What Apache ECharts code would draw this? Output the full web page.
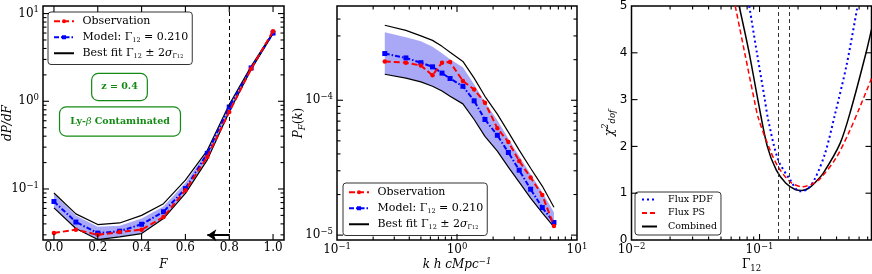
<!DOCTYPE html>
<html><head><meta charset="utf-8">
<script src="https://cdn.jsdelivr.net/npm/echarts@6/dist/echarts.min.js"></script>
<style>html,body{margin:0;padding:0;background:#fff}#c{width:872px;height:274px}</style>
</head><body><div id="c"></div>
<script>
// ---------- Panel 1: flux PDF ----------
const fluxF      = [0.0, 0.1, 0.2, 0.3, 0.4, 0.5, 0.6, 0.7, 0.8, 0.9, 1.0];
const pdfObs     = [0.0315, 0.0344, 0.0300, 0.0323, 0.0344, 0.048, 0.097, 0.232, 0.755, 2.35, 6.3];
const pdfModel   = [0.072, 0.042, 0.0314, 0.033, 0.0396, 0.055, 0.101, 0.255, 0.86, 2.4, 6.0];
const pdfFitHi   = [0.090, 0.052, 0.0393, 0.041, 0.050, 0.068, 0.126, 0.276, 0.92, 2.5, 6.1];
const pdfFitLo   = [0.0608, 0.0354, 0.0265, 0.0284, 0.031, 0.046, 0.089, 0.215, 0.76, 2.3, 5.9];
const pdfBandHi  = [0.088, 0.050, 0.037, 0.038, 0.046, 0.063, 0.118, 0.27, 0.90, 2.5, 6.1];
const pdfBandLo  = [0.0608, 0.0354, 0.0265, 0.0284, 0.031, 0.046, 0.089, 0.215, 0.76, 2.3, 5.9];
const fluxCut    = 0.8;
const arrowTo    = 0.7;
const arrowLevel = 0.0297;
const fluxTicks  = [0.0, 0.2, 0.4, 0.6, 0.8, 1.0];
const pdfTicks   = [0.1, 1, 10];

// ---------- Panel 2: flux power spectrum ----------
const kVals     = [0.25, 0.375, 0.5, 0.625, 0.75, 0.875, 1.12, 1.39, 1.71, 2.17, 2.68, 3.30, 4.11, 5.14, 6.43];
const psObs     = [1.94e-4, 1.90e-4, 1.81e-4, 1.53e-4, 1.90e-4, 1.92e-4, 1.39e-4, 1.20e-4, 9.6e-5, 6.2e-5, 4.9e-5, 3.55e-5, 2.67e-5, 1.98e-5, 1.17e-5];
const psModel   = [2.22e-4, 2.06e-4, 1.90e-4, 1.77e-4, 1.59e-4, 1.45e-4, 1.27e-4, 9.9e-5, 7.2e-5, 5.5e-5, 4.1e-5, 3.03e-5, 2.19e-5, 1.60e-5, 1.24e-5];
const psFitHi   = [3.6e-4, 3.3e-4, 3.0e-4, 2.78e-4, 2.51e-4, 2.27e-4, 1.94e-4, 1.46e-4, 1.07e-4, 7.9e-5, 5.8e-5, 4.27e-5, 3.13e-5, 2.31e-5, 1.61e-5];
const psFitLo   = [1.56e-4, 1.46e-4, 1.37e-4, 1.27e-4, 1.17e-4, 1.07e-4, 9.4e-5, 7.2e-5, 5.4e-5, 4.19e-5, 3.19e-5, 2.47e-5, 1.88e-5, 1.46e-5, 1.15e-5];
const psBandHi  = [3.2e-4, 2.93e-4, 2.74e-4, 2.49e-4, 2.23e-4, 2.01e-4, 1.76e-4, 1.31e-4, 9.66e-5, 7.1e-5, 5.2e-5, 3.85e-5, 2.83e-5, 2.08e-5, 1.48e-5];
const psBandLo  = [1.56e-4, 1.46e-4, 1.37e-4, 1.27e-4, 1.17e-4, 1.07e-4, 9.4e-5, 7.2e-5, 5.4e-5, 4.19e-5, 3.19e-5, 2.47e-5, 1.88e-5, 1.46e-5, 1.15e-5];
const kTicks    = [0.1, 1, 10];
const psTicks   = [1e-5, 1e-4];

// ---------- Panel 3: chi^2 vs Gamma_12 ----------
const gamPDF  = [0.0831, 0.0954, 0.110, 0.117, 0.140, 0.174, 0.205, 0.235, 0.27, 0.326, 0.39, 0.48, 0.58];
const chiPDF  = [5.0, 4.0, 3.0, 2.56, 1.71, 1.28, 1.04, 1.08, 1.3, 1.86, 2.7, 3.75, 4.96];
const gamPS   = [0.0646, 0.0766, 0.0909, 0.098, 0.121, 0.14, 0.174, 0.215, 0.26, 0.30, 0.40, 0.50, 0.60, 0.75];
const chiPS   = [5.0, 4.0, 3.0, 2.6, 1.92, 1.56, 1.24, 1.14, 1.2, 1.32, 1.77, 2.3, 2.8, 3.45];
const gamComb = [0.0693, 0.083, 0.097, 0.115, 0.135, 0.16, 0.19, 0.215, 0.24, 0.27, 0.315, 0.427, 0.52, 0.68, 0.75];
const chiComb = [5.0, 4.0, 3.0, 2.0, 1.5, 1.22, 1.08, 1.06, 1.1, 1.22, 1.43, 2.07, 2.8, 4.0, 4.5];
const gamBounds = [0.135, 0.175];
const gamTicks  = [0.01, 0.1];
const chiTicks  = [0, 1, 2, 3, 4, 5];

// ---------- styling ----------
const SERIF = 'DejaVu Serif';
const RED = '#ff0000', BLUE = '#0000ff', GREEN = '#138a13';
const BAND = 'rgba(0,0,230,0.34)';

function minorLog(e0, e1, lo, hi) {
  const out = [];
  for (let e = e0; e < e1; e++) for (let m = 2; m <= 9; m++) {
    const v = +(m * Math.pow(10, e)).toPrecision(3);
    if (v > lo && v < hi) out.push(v);
  }
  return out;
}
function expLabel(v) {
  const e = Math.round(Math.log10(v));
  return '{b|10}{s|' + (e < 0 ? '\u2212' + (-e) : e) + '}';
}
const expRich = {
  b: {fontFamily: SERIF, fontSize: 12, lineHeight: 16, color: '#000'},
  s: {fontFamily: SERIF, fontSize: 8.5, lineHeight: 8, verticalAlign: 'top', color: '#000'}
};
const nameRich = {
  i: {fontFamily: SERIF, fontStyle: 'italic', fontSize: 12, lineHeight: 16, color: '#000'},
  r: {fontFamily: SERIF, fontSize: 12, lineHeight: 16, color: '#000'},
  s: {fontFamily: SERIF, fontStyle: 'italic', fontSize: 8.5, lineHeight: 8, verticalAlign: 'top', color: '#000'},
  sub: {fontFamily: SERIF, fontStyle: 'italic', fontSize: 8.5, lineHeight: 8, verticalAlign: 'bottom', color: '#000'},
  subr: {fontFamily: SERIF, fontSize: 8.5, lineHeight: 8, verticalAlign: 'bottom', color: '#000'}
};

function makeAxis(gi, type, min, max, label, nameOpt, pos) {
  const a = {type: type, gridIndex: gi, min: min, max: max, position: pos,
    axisLine: {show: false}, axisTick: {show: false}, splitLine: {show: false},
    minorTick: {show: false}, minorSplitLine: {show: false}, axisLabel: label, nameMoveOverlap: false};
  if (type === 'log') a.logBase = 10;
  return Object.assign(a, nameOpt);
}
const plainLabel = (vals, fmt, margin, family) => ({show: true, customValues: vals, margin: margin,
  fontFamily: family || SERIF, fontSize: 12, color: '#000', formatter: fmt});
const expAxisLabel = (vals, margin) => ({show: true, customValues: vals, margin: margin,
  formatter: v => expLabel(v), rich: expRich});
const nameOf = (text, gap, rot) => ({name: text, nameLocation: 'middle', nameGap: gap, nameRotate: rot || 0,
  nameTextStyle: {rich: nameRich}});

// axis extents and types
const xr = [[-0.05, 1.05], [0.0999, 10.01], [0.00999, 0.75]];
const yr = [[0.0262, 12.2], [9.2e-6, 5e-4], [0, 5]];
const xType = ['value', 'log', 'log'];
const yType = ['log', 'log', 'value'];
const gridW = [241, 240, 240], gridH = 234;

const xAxes = [
  makeAxis(0, xType[0], xr[0][0], xr[0][1], plainLabel(fluxTicks, v => v.toFixed(1), 2), nameOf('{i|F}', 17), 'bottom'),
  makeAxis(1, xType[1], xr[1][0], xr[1][1], expAxisLabel(kTicks, 2), nameOf('{i|k h cMpc}{s|\u22121}', 17), 'bottom'),
  makeAxis(2, xType[2], xr[2][0], xr[2][1], expAxisLabel(gamTicks, 2), nameOf('{r|\u0393}{subr|12}', 17), 'bottom')
];
const yAxes = [
  makeAxis(0, yType[0], yr[0][0], yr[0][1], expAxisLabel(pdfTicks, 4), nameOf('{i|dP/dF}', 27, 90), 'left'),
  makeAxis(1, yType[1], yr[1][0], yr[1][1], expAxisLabel(psTicks, 4), nameOf('{i|P}{sub|F}{r|(}{i|k}{r|)}', 30, 90), 'left'),
  makeAxis(2, yType[2], yr[2][0], yr[2][1], plainLabel(chiTicks, v => String(v), 4, 'DejaVu Sans'), nameOf('{i|\u03c7}{s|2}{sub|dof}', 14, 90), 'left')
];

// tick marks on all four sides (inward), positioned through the grids' scales
const tickSpec = [
  {xMaj: fluxTicks, xMin: [], yMaj: pdfTicks, yMin: minorLog(-2, 1, yr[0][0], yr[0][1])},
  {xMaj: kTicks, xMin: minorLog(-1, 1, xr[1][0], xr[1][1]), yMaj: psTicks, yMin: minorLog(-6, -3, yr[1][0], yr[1][1])},
  {xMaj: gamTicks, xMin: minorLog(-2, 0, xr[2][0], xr[2][1]), yMaj: chiTicks, yMin: []}
];
function tickGraphic(chart, gi) {
  const t = tickSpec[gi], X = xr[gi], Y = yr[gi];
  const px = p => chart.convertToPixel({gridIndex: gi}, p);
  const c0 = px([X[0], Y[0]]), c1 = px([X[1], Y[1]]);
  const L = c0[0], B = c0[1], R = c1[0], T = c1[1];
  const kids = [];
  const seg = (x1, y1, x2, y2) => kids.push({type: 'line', z: 9, silent: true,
    shape: {x1: x1, y1: y1, x2: x2, y2: y2}, style: {stroke: '#000', lineWidth: 1.1}});
  t.xMaj.concat(t.xMin).forEach((v, i) => {
    const len = i < t.xMaj.length ? 6 : 3.5;
    const p = px([v, Y[0] > 0 ? Y[0] * 2 : 1])[0];
    if (p > L + 0.5 && p < R - 0.5) { seg(p, B, p, B - len); seg(p, T, p, T + len); }
  });
  t.yMaj.concat(t.yMin).forEach((v, i) => {
    const len = i < t.yMaj.length ? 6 : 3.5;
    const p = px([X[0] > 0 ? X[0] * 2 : 0.5, v])[1];
    if (p > T + 0.5 && p < B - 0.5) { seg(L, p, L + len, p); seg(R, p, R - len, p); }
  });
  return {type: 'group', id: 'ticks' + gi, silent: true, children: kids};
}

function pts(xs, ys) { return xs.map((x, i) => [x, ys[i]]); }
function line(name, gi, xs, ys, style) {
  return Object.assign({type: 'line', name: name, xAxisIndex: gi, yAxisIndex: gi,
    data: pts(xs, ys), animation: false, emphasis: {disabled: true}, silent: true}, style);
}
function band(gi, xs, lo, hi) {
  return {type: 'custom', name: 'band', xAxisIndex: gi, yAxisIndex: gi, silent: true, z: 1,
    animation: false, data: [[xs[0], lo[0]]],
    renderItem: (params, api) => {
      const top = xs.map((x, i) => api.coord([x, hi[i]]));
      const bot = xs.map((x, i) => api.coord([x, lo[i]])).reverse();
      return {type: 'polygon', shape: {points: top.concat(bot)}, style: {fill: BAND, stroke: null}};
    }};
}
const obsStyle = {symbol: 'circle', symbolSize: 4.5, itemStyle: {color: RED}, lineStyle: {color: RED, width: 2, type: [6, 3]}, z: 5};
const modelStyle = {symbol: 'rect', symbolSize: 5, itemStyle: {color: BLUE}, lineStyle: {color: BLUE, width: 2, type: [5, 2, 1.5, 2]}, z: 4};
const fitStyle = {symbol: 'none', itemStyle: {color: '#000'}, lineStyle: {color: '#000', width: 1.2}, z: 3};

const series = [
  band(0, fluxF, pdfBandLo, pdfBandHi),
  line('Best fit', 0, fluxF, pdfFitHi, Object.assign({}, fitStyle, {
    markLine: {silent: true, animation: false, symbol: ['none', 'none'], label: {show: false},
      lineStyle: {color: '#000', width: 1, type: [4, 3]}, data: [{xAxis: fluxCut}]}})),
  line('Best fit', 0, fluxF, pdfFitLo, fitStyle),
  line('Model', 0, fluxF, pdfModel, modelStyle),
  line('Observation', 0, fluxF, pdfObs, Object.assign({}, obsStyle, {
    markLine: {silent: true, animation: false, label: {show: false}, symbol: ['none', 'arrow'], symbolSize: 9,
      lineStyle: {color: '#000', width: 2, type: 'solid'},
      data: [[{coord: [fluxCut, arrowLevel]}, {coord: [arrowTo, arrowLevel]}]]}})),

  band(1, kVals, psBandLo, psBandHi),
  line('Best fit', 1, kVals, psFitHi, fitStyle),
  line('Best fit', 1, kVals, psFitLo, fitStyle),
  line('Model', 1, kVals, psModel, modelStyle),
  line('Observation', 1, kVals, psObs, obsStyle),

  line('Flux PDF', 2, gamPDF, chiPDF, {symbol: 'none', smooth: 0.3, itemStyle: {color: BLUE}, lineStyle: {color: BLUE, width: 2, type: [2, 3]}, z: 4}),
  line('Flux PS', 2, gamPS, chiPS, {symbol: 'none', smooth: 0.3, itemStyle: {color: RED}, lineStyle: {color: RED, width: 1.5, type: [5, 3]}, z: 4}),
  line('Combined', 2, gamComb, chiComb, {symbol: 'none', smooth: 0.3, itemStyle: {color: '#000'}, lineStyle: {color: '#000', width: 1.5}, z: 3,
    markLine: {silent: true, animation: false, symbol: ['none', 'none'], label: {show: false},
      lineStyle: {color: '#333', width: 1, type: [4, 3]}, data: gamBounds.map(g => ({xAxis: g}))}})
];

const legRich = {
  sub: {fontFamily: SERIF, fontSize: 6.5, lineHeight: 7, verticalAlign: 'bottom', color: '#000'},
  it: {fontFamily: SERIF, fontStyle: 'italic', fontSize: 11, color: '#000'},
  ss: {fontFamily: SERIF, fontSize: 5, lineHeight: 5, verticalAlign: 'bottom', color: '#000'}
};
const legendText = {
  'Observation': ' Observation',
  'Model': ' Model: \u0393{sub|12} = 0.210',
  'Best fit': ' Best fit \u0393{sub|12} \u00b1 2{it|\u03c3}{sub|\u0393}{ss|12}',
  'Flux PDF': '  Flux PDF', 'Flux PS': '  Flux PS', 'Combined': '  Combined'
};
const noMarker = ['Best fit', 'Flux PDF', 'Flux PS', 'Combined'];
function legend(left, top, names, fs, gap, iw, padding) {
  return {orient: 'vertical', left: left, top: top,
    data: names.map(n => noMarker.indexOf(n) >= 0 ? {name: n, itemStyle: {opacity: 0}} : {name: n}),
    itemWidth: iw, itemHeight: 5, itemGap: gap,
    padding: padding, backgroundColor: '#fff', borderColor: '#333', borderWidth: 1, borderRadius: 3,
    selectedMode: false, formatter: n => legendText[n],
    textStyle: {fontFamily: SERIF, fontSize: fs, lineHeight: fs + 1.5, color: '#000', rich: legRich}};
}
const psNames = ['Observation', 'Model', 'Best fit'];
const chiNames = ['Flux PDF', 'Flux PS', 'Combined'];

const boxes = [
  {type: 'text', id: 'zbox', x: 119.5, y: 87, z: 10, style: {text: 'z = 0.4', font: 'bold 9.5px "DejaVu Serif"', fill: GREEN,
    align: 'center', verticalAlign: 'middle', backgroundColor: '#fff', borderColor: GREEN, borderWidth: 1.2,
    borderRadius: 6, padding: [8, 9, 8, 9]}},
  {type: 'text', id: 'lybox', x: 120, y: 121.5, z: 10, style: {text: '{b|Ly-}{bi|\u03b2}{b| Contaminated}',
    rich: {b: {font: 'bold 9.5px "DejaVu Serif"', fill: GREEN}, bi: {font: 'italic 9.5px "DejaVu Serif"', fill: GREEN}},
    align: 'center', verticalAlign: 'middle', backgroundColor: '#fff', borderColor: GREEN, borderWidth: 1.2,
    borderRadius: 6, padding: [9, 10, 9, 10]}}
];

const gridBase = {top: 6, height: gridH, show: true, borderColor: '#000', borderWidth: 1.5,
  backgroundColor: 'transparent', containLabel: false, outerBoundsMode: 'none'};
const option = {
  animation: false,
  textStyle: {fontFamily: SERIF},
  grid: [
    Object.assign({left: 43, width: gridW[0]}, gridBase),
    Object.assign({left: 337, width: gridW[1]}, gridBase),
    Object.assign({left: 631.5, width: gridW[2]}, gridBase)
  ],
  xAxis: xAxes,
  yAxis: yAxes,
  legend: [
    legend(48, 12, psNames, 11, 3.5, 20, [3, 4, 5, 5]),
    legend(343, 183, psNames, 11, 3.5, 20, [3, 4, 5, 5]),
    legend(635, 192, chiNames, 9.5, 2.5, 15, [2, 4, 3, 6])
  ],
  graphic: boxes,
  series: series
};
const chart = echarts.init(document.getElementById('c'), null, {renderer: 'canvas'});
chart.setOption(option);
try {
  const ticks = [0, 1, 2].map(gi => tickGraphic(chart, gi));
  chart.setOption({graphic: boxes.concat(ticks)});
} catch (e) { /* ticks are decorative */ }
</script></body></html>
